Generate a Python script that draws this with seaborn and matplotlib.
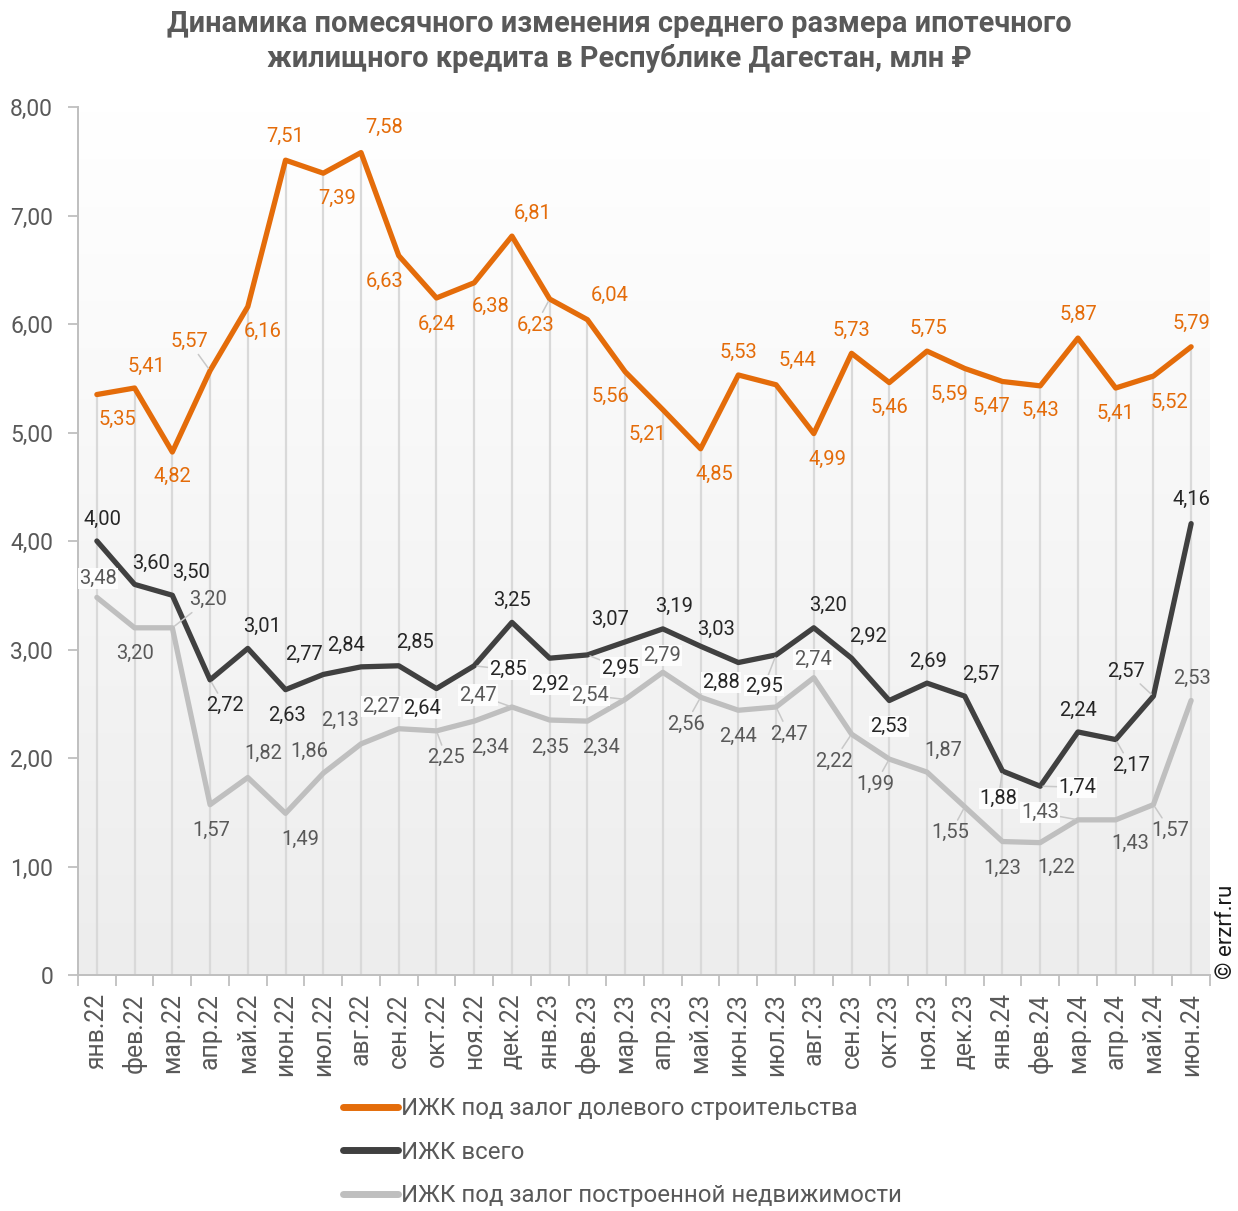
import numpy as np
import pandas as pd
import matplotlib
matplotlib.use("Agg")
import matplotlib.pyplot as plt
import seaborn as sns
from matplotlib.lines import Line2D
from matplotlib.ticker import FuncFormatter
from matplotlib.colors import LinearSegmentedColormap

# ---------------- data ----------------
months = ["янв.22", "фев.22", "мар.22", "апр.22", "май.22", "июн.22", "июл.22", "авг.22",
          "сен.22", "окт.22", "ноя.22", "дек.22", "янв.23", "фев.23", "мар.23", "апр.23",
          "май.23", "июн.23", "июл.23", "авг.23", "сен.23", "окт.23", "ноя.23", "дек.23",
          "янв.24", "фев.24", "мар.24", "апр.24", "май.24", "июн.24"]

dolevoe = [5.35, 5.41, 4.82, 5.57, 6.16, 7.51, 7.39, 7.58, 6.63, 6.24, 6.38, 6.81, 6.23, 6.04,
           5.56, 5.21, 4.85, 5.53, 5.44, 4.99, 5.73, 5.46, 5.75, 5.59, 5.47, 5.43, 5.87, 5.41,
           5.52, 5.79]
vsego = [4.00, 3.60, 3.50, 2.72, 3.01, 2.63, 2.77, 2.84, 2.85, 2.64, 2.85, 3.25, 2.92, 2.95,
         3.07, 3.19, 3.03, 2.88, 2.95, 3.20, 2.92, 2.53, 2.69, 2.57, 1.88, 1.74, 2.24, 2.17,
         2.57, 4.16]
postr = [3.48, 3.20, 3.20, 1.57, 1.82, 1.49, 1.86, 2.13, 2.27, 2.25, 2.34, 2.47, 2.35, 2.34,
         2.54, 2.79, 2.56, 2.44, 2.47, 2.74, 2.22, 1.99, 1.87, 1.55, 1.23, 1.22, 1.43, 1.43,
         1.57, 2.53]

series_names = ["ИЖК под залог долевого строительства", "ИЖК всего",
                "ИЖК под залог построенной недвижимости"]
title = ("Динамика помесячного изменения среднего размера ипотечного\n"
         "жилищного кредита в Республике Дагестан, млн ₽")
y_ticks = [0, 1, 2, 3, 4, 5, 6, 7, 8]

# ---------------- label placement (pixel offsets: dx, dy down) ----------------
off_dol = [(21, 25), (12, -22), (0, 24), (-21, -29), (15, 25), (0, -24), (14, 25), (23, -25),
           (-14, 26), (0, 26), (16, 24), (21, -23), (-14, 26), (22, -24), (-15, 25), (-15, 25),
           (14, 26), (0, -23), (21, -24), (14, 26), (0, -23), (0, 25), (1, -23), (-15, 26),
           (-11, 25), (0, 25), (0, -24), (0, 25), (16, 26), (0, -23)]
off_vse = [(6, -22), (16, -21), (19, -23), (15, 26), (14, -22), (1, 26), (-19, -20), (-15, -21),
           (16, -23), (-14, 20), (34, 4), (0, -22), (0, 26), (33, 13), (-15, -22), (11, -22),
           (15, -17), (-17, 20), (-12, 31), (14, -22), (17, -22), (0, 26), (1, -22), (16, -22),
           (-4, 27), (37, 1), (0, -22), (15, 26), (-27, -25), (0, -24)]
off_pos = [(1, -19), (0, 26), (36, -28), (1, 26), (15, -24), (15, 26), (-14, -22), (-21, -23),
           (-18, -22), (10, 27), (16, 26), (-34, -12), (0, 27), (14, 26), (-35, -4), (-1, -17),
           (-15, 27), (0, 26), (13, 27), (-1, -18), (-18, 27), (-14, 25), (16, -22), (-14, 26),
           (0, 27), (16, 25), (-38, -7), (15, 24), (17, 26), (1, -22)]
lead_dol = {3, 12}
lead_vse = {3, 10, 13, 18, 24, 25, 27, 28}
lead_pos = {2, 9, 11, 14, 16, 18, 20, 21, 23, 26, 28}
box_dol = set()
box_vse = {9, 10, 12, 13, 17, 18, 21, 24, 25}
box_pos = {0, 8, 11, 14, 15, 19, 26}

ORANGE = "#E46C0A"
DARK = "#404040"
LIGHT = "#BFBFBF"
TXT = "#595959"

sns.set_theme(style="white")
plt.rcParams["font.family"] = ["Roboto", "DejaVu Sans"]

W, H = 1238, 1211
fig = plt.figure(figsize=(W / 100, H / 100), dpi=100)
ax = fig.add_axes([78 / W, 1 - 975 / H, (1210 - 78) / W, (975 - 107) / H])

# gradient background of the plot area
cmap = LinearSegmentedColormap.from_list("bg", ["#ffffff", "#ededed"])
ax.imshow(np.linspace(0, 1, 256).reshape(-1, 1), extent=[0, 1, 0, 1], transform=ax.transAxes,
          cmap=cmap, aspect="auto", zorder=0, interpolation="bilinear")

x = np.arange(len(months))
# drop lines
ax.vlines(x, 0, dolevoe, color="#d9d9d9", lw=1.6, zorder=1)

df = pd.DataFrame({"x": np.tile(x, 3),
                   "value": dolevoe + vsego + postr,
                   "series": np.repeat(series_names, len(months))})
palette = dict(zip(series_names, [ORANGE, DARK, LIGHT]))
for name in series_names[::-1]:
    sns.lineplot(data=df[df["series"] == name], x="x", y="value", color=palette[name],
                 linewidth=3.8, ax=ax, legend=False, sort=False, zorder=3,
                 solid_joinstyle="round", solid_capstyle="round")


def fmt(v):
    return f"{v:.2f}".replace(".", ",")


def put_labels(vals, offs, leads, boxes, color):
    for i, v in enumerate(vals):
        dx, dy = offs[i]
        kw = {}
        if i in leads:
            kw["arrowprops"] = dict(arrowstyle="-", color="#c8c8c8", lw=1.1,
                                    shrinkA=0, shrinkB=2)
        bbox = None
        if i in boxes:
            bbox = dict(boxstyle="square,pad=0.05", fc="white", ec="none", alpha=0.9)
        ax.annotate(fmt(v), xy=(i, v), xytext=(dx, -dy), textcoords="offset pixels",
                    ha="center", va="center", fontsize=14.5, color=color, zorder=6,
                    bbox=bbox, **kw)


put_labels(postr, off_pos, lead_pos, box_pos, TXT)
put_labels(vsego, off_vse, lead_vse, box_vse, "#262626")
put_labels(dolevoe, off_dol, lead_dol, box_dol, ORANGE)

ax.set_xlim(-0.5, len(months) - 0.5)
ax.set_ylim(0, 8)
ax.set_xlabel("")
ax.set_ylabel("")
ax.grid(False)

for s in ["top", "right"]:
    ax.spines[s].set_visible(False)
for s in ["left", "bottom"]:
    ax.spines[s].set_color(LIGHT)
    ax.spines[s].set_linewidth(1.4)
    ax.spines[s].set_zorder(4)

ax.set_yticks(y_ticks)
ax.yaxis.set_major_formatter(FuncFormatter(lambda v, p: "0" if v == 0 else fmt(v)))
ax.tick_params(axis="y", length=7, width=1.3, color=LIGHT, labelsize=16.5,
               labelcolor=TXT, pad=11, left=True)

ax.set_xticks(x)
ax.set_xticklabels(months, rotation=90, va="top", ha="center")
ax.set_xticks(np.arange(-0.5, len(months), 1), minor=True)
ax.tick_params(axis="x", which="major", length=0, labelsize=17.8, labelcolor=TXT, pad=13)
ax.tick_params(axis="x", which="minor", length=8, width=1.3, color=LIGHT, bottom=True)

fig.text(0.5, 1 - 10 / H, title, ha="center", va="top", fontsize=20.8, fontweight="bold",
         color=TXT, linespacing=1.25)

fig.text(1226 / W, 1 - 979 / H, "© erzrf.ru", rotation=90, ha="center", va="bottom",
         fontsize=16, color="#1a1a1a")

handles = [Line2D([0], [0], color=c, lw=5, solid_capstyle="round")
           for c in [ORANGE, DARK, LIGHT]]
fig.legend(handles, series_names, loc="upper left", bbox_to_anchor=(343 / W, 1 - 1097 / H),
           frameon=False, fontsize=17.3, labelcolor=TXT, handlelength=2.3, handletextpad=0.12,
           labelspacing=0.86, borderpad=0, borderaxespad=0)

fig.savefig("out.png", dpi=100)
